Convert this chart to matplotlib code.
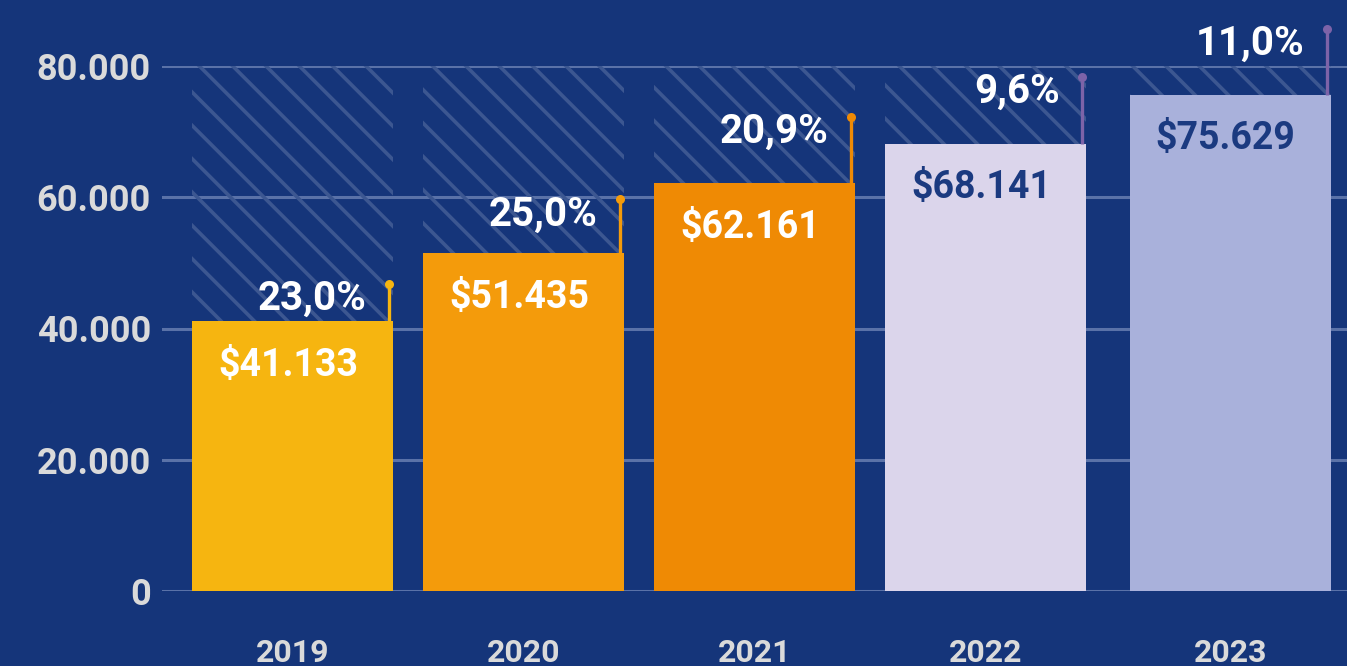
import matplotlib
matplotlib.use("Agg")
import matplotlib.pyplot as plt
import numpy as np

# ---- data ----
years = ["2019", "2020", "2021", "2022", "2023"]
revenue = [41133, 51435, 62161, 68141, 75629]
growth = [23.0, 25.0, 20.9, 9.6, 11.0]
y_ticks = [0, 20000, 40000, 60000, 80000]

# ---- style ----
bg = "#15357a"
bar_colors = ["#f6b510", "#f49b0b", "#ef8a04", "#dbd5eb", "#a9b1db"]
stem_colors = ["#f6b510", "#f49b0b", "#ef8a04", "#7d63a8", "#7d63a8"]
value_text_colors = ["white", "white", "white", "#1b3a80", "#1b3a80"]
grid_color = "#5a72a8"
hatch_color = "#3c5791"
tick_color = "#dadada"
stem_len_px = [37, 54, 66, 67, 66]
xpos = [0, 1, 2, 3, 4.06]
bar_w = 0.87

plt.rcParams["font.family"] = ["Roboto", "DejaVu Sans"]
plt.rcParams["hatch.linewidth"] = 2.6

W, H = 1347, 666
fig = plt.figure(figsize=(W / 100, H / 100), dpi=100, facecolor=bg)
ax = fig.add_axes([162 / W, 75 / H, (W - 162) / W, 525 / H])
ax.set_facecolor(bg)
ax.set_xlim(-0.565, 4.565)
ax.set_ylim(0, 80000)

top = y_ticks[-1]
# hatched background up to the top gridline
ax.bar(xpos, [top - v for v in revenue], bottom=revenue, width=bar_w,
       facecolor="none", edgecolor=hatch_color, linewidth=0, hatch="\\", zorder=1)
# main bars
ax.bar(xpos, revenue, width=bar_w, color=bar_colors, zorder=3)

ax.set_yticks(y_ticks)
ax.set_yticklabels([f"{t:,}".replace(",", ".") for t in y_ticks])
ax.set_xticks(xpos)
ax.set_xticklabels(years)
ax.grid(axis="y", color=grid_color, linewidth=2.2, zorder=0)
ax.grid(axis="x", visible=False)
ax.set_axisbelow(True)
for s in ax.spines.values():
    s.set_visible(False)
ax.tick_params(axis="y", length=0, pad=8, labelcolor=tick_color, labelsize=26)
ax.tick_params(axis="x", length=0, pad=34, labelcolor=tick_color, labelsize=23)
for lab in ax.get_yticklabels() + ax.get_xticklabels():
    lab.set_fontweight("bold")
for lab in ax.get_xticklabels():
    lab.set_verticalalignment("top")

dpp = 80000 / 525.0  # data units per pixel
px2pt = 72 / 100.0

for i, (x, v) in enumerate(zip(xpos, revenue)):
    # value label inside bar
    ax.annotate(f"${v:,}".replace(",", "."), xy=(x - bar_w / 2, v),
                xytext=(26 * px2pt, -44 * px2pt), textcoords="offset points",
                ha="left", va="center", fontsize=27, fontweight="bold",
                color=value_text_colors[i], zorder=5)
    # growth stem
    xr = x + bar_w / 2 - 4 / 231.0
    ytop = v + stem_len_px[i] * dpp
    ax.plot([xr, xr], [v, ytop], color=stem_colors[i], linewidth=2.4,
            zorder=4, clip_on=False, solid_capstyle="butt")
    ax.plot([xr], [ytop], marker="o", markersize=6.5, color=stem_colors[i],
            markeredgewidth=0, zorder=4, clip_on=False)
    ax.annotate(f"{growth[i]:.1f}%".replace(".", ","), xy=(xr, ytop),
                xytext=(-22 * px2pt, -15 * px2pt), textcoords="offset points",
                ha="right", va="center", fontsize=29, fontweight="bold",
                color="white", zorder=5, annotation_clip=False)

fig.savefig("out.png", dpi=100, facecolor=bg)
